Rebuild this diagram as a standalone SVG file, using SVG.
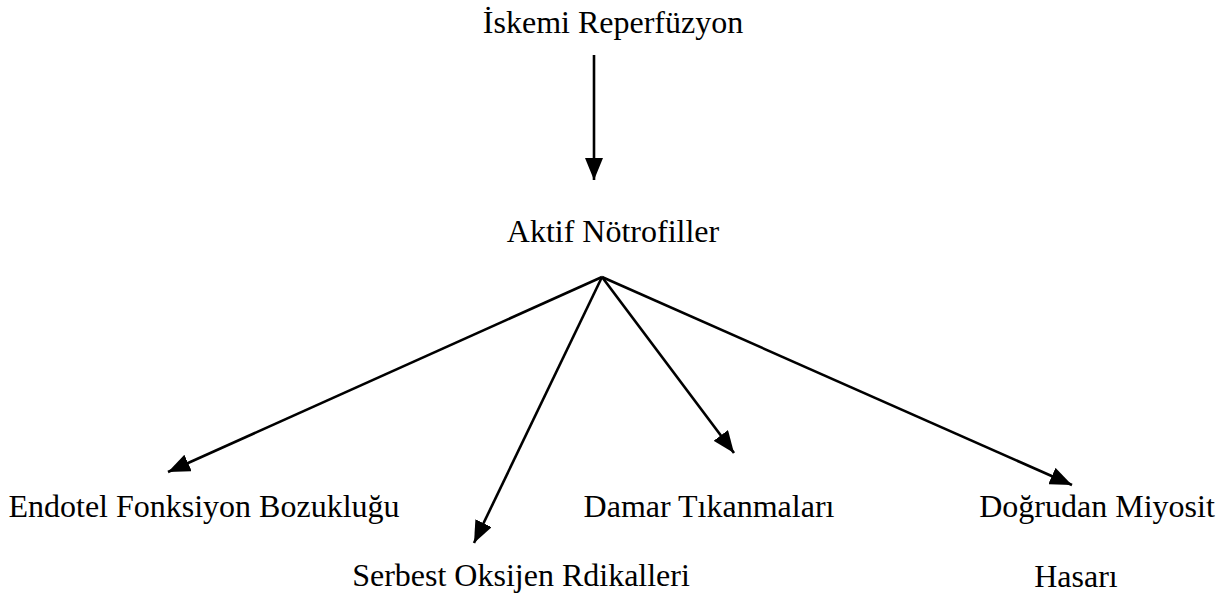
<svg xmlns="http://www.w3.org/2000/svg" width="1230" height="597" viewBox="0 0 1230 597">
  <style>
    .lbl { font-family: "Liberation Serif", "Times New Roman", serif; font-size: 32px; fill: #000; text-anchor: middle; }
    .edge { stroke: #000; stroke-width: 2.6; fill: none; marker-end: url(#head); }
  </style>
  <defs>
    <marker id="head" markerUnits="userSpaceOnUse" markerWidth="24" markerHeight="18" viewBox="0 0 24 18" refX="22" refY="9" orient="auto">
      <path d="M0,0 L22,9 L0,18 Z" fill="#000"/>
    </marker>
  </defs>
  <rect width="1230" height="597" fill="#fff"/>

  <g id="connectors">
    <line class="edge" x1="594" y1="55" x2="594" y2="180"/>
    <line class="edge" x1="602" y1="277" x2="168" y2="472"/>
    <line class="edge" x1="602" y1="277" x2="474" y2="543"/>
    <line class="edge" x1="602" y1="277" x2="734" y2="453"/>
    <line class="edge" x1="602" y1="277" x2="1072" y2="485"/>
  </g>

  <g id="iskemi"><text class="lbl" x="613" y="33">İskemi Reperfüzyon</text></g>
  <g id="notrofil"><text class="lbl" x="613" y="242">Aktif Nötrofiller</text></g>
  <g id="endotel"><text class="lbl" x="204" y="517">Endotel Fonksiyon Bozukluğu</text></g>
  <g id="oksijen"><text class="lbl" x="521" y="586">Serbest Oksijen Rdikalleri</text></g>
  <g id="damar"><text class="lbl" x="709" y="517">Damar Tıkanmaları</text></g>
  <g id="miyosit">
    <text class="lbl" x="1097" y="517">Doğrudan Miyosit</text>
    <text class="lbl" x="1076" y="587">Hasarı</text>
  </g>
</svg>
